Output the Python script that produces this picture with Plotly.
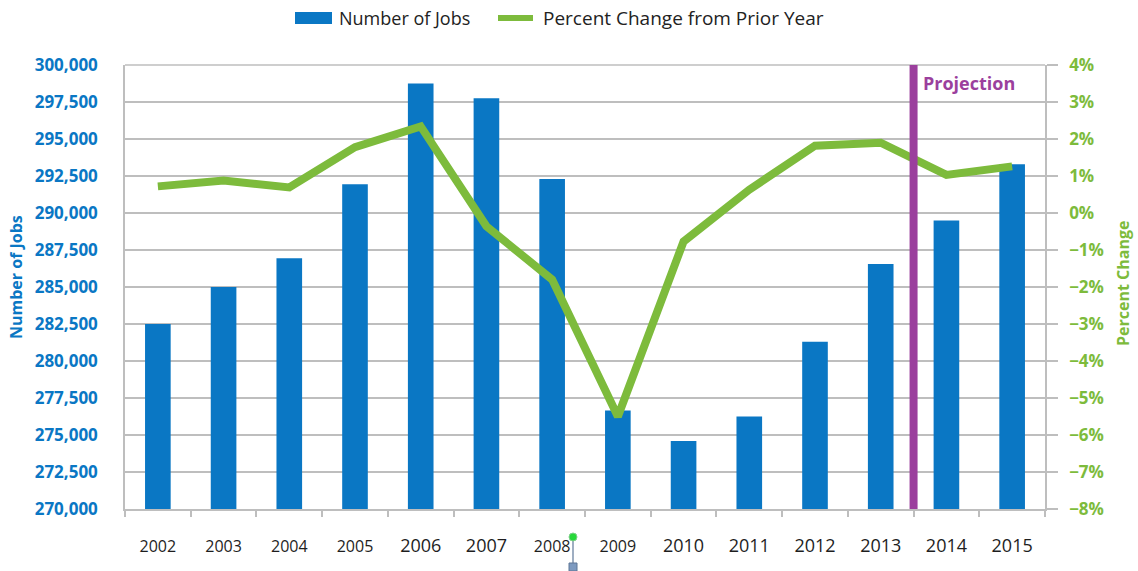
import plotly.graph_objects as go

# Annual employment and year-over-year change
years = [2002, 2003, 2004, 2005, 2006, 2007, 2008, 2009, 2010, 2011, 2012, 2013, 2014, 2015]
year_labels = ["2002", "2003", "2004", "2005", "2006", "2007", "2008",
               "2009", "2010", "2011", "2012", "2013", "2014", "2015"]
jobs = [282500, 285000, 286950, 291950, 298750, 297750, 292300,
        276650, 274600, 276250, 281300, 286550, 289500, 293300]
pct_change = [0.72, 0.88, 0.69, 1.78, 2.34, -0.36, -1.80,
              -5.50, -0.77, 0.63, 1.82, 1.90, 1.03, 1.26]

# Years from here on are projected values
projection_start = 2013.5

BLUE = "#0A77C4"
GREEN = "#7DBB3C"
PURPLE = "#9B3F9D"
GRID = "#BEBEBE"
FONT = "Open Sans"

# Plot-area geometry in pixels, used to place the hand-built legend
W, H = 1138, 571
L, R, T, B = 125, 93, 65, 62
PW, PH = W - L - R, H - T - B


def px(x):
    return (x - L) / PW


def py(y):
    return (H - B - y) / PH


# A few early labels are set slightly narrower
small_years = {"2002", "2003", "2004", "2005", "2008", "2009"}
tick_text = [f"<span style='font-size:16px'>{t}</span>" if t in small_years else t
             for t in year_labels]

fig = go.Figure()

fig.add_trace(go.Bar(
    x=years, y=jobs, name="Number of Jobs",
    marker=dict(color=BLUE, line=dict(width=0)),
    width=0.39, yaxis="y",
))

fig.add_trace(go.Scatter(
    x=years, y=pct_change, name="Percent Change from Prior Year",
    mode="lines", line=dict(color=GREEN, width=8),
    yaxis="y2",
))

# Divider between actual and projected years
fig.add_shape(
    type="line", xref="x", yref="paper",
    x0=projection_start, x1=projection_start, y0=0, y1=1,
    line=dict(color=PURPLE, width=8), layer="above",
)
fig.add_annotation(
    x=projection_start, y=1, xref="x", yref="paper",
    xanchor="left", yanchor="top", xshift=7, yshift=-4,
    text="<b>Projection</b>", showarrow=False,
    font=dict(family=FONT, size=18, color=PURPLE),
)

# Legend above the plot
LEG_FONT = dict(family=FONT, size=18, color="#222222")
fig.add_shape(type="rect", xref="paper", yref="paper",
              x0=px(295), x1=px(332), y0=py(24), y1=py(12),
              fillcolor=BLUE, line=dict(width=0))
fig.add_annotation(x=px(337), y=py(18), xref="paper", yref="paper",
                   xanchor="left", yanchor="middle", showarrow=False,
                   text="Number of Jobs", font=LEG_FONT)
fig.add_shape(type="line", xref="paper", yref="paper",
              x0=px(498), x1=px(533), y0=py(18), y1=py(18),
              line=dict(color=GREEN, width=6))
fig.add_annotation(x=px(541), y=py(18), xref="paper", yref="paper",
                   xanchor="left", yanchor="middle", showarrow=False,
                   text="Percent Change from Prior Year",
                   font=dict(family=FONT, size=19, color="#222222"))

# Axis titles
fig.add_annotation(x=px(16), y=py(277), xref="paper", yref="paper",
                   xanchor="center", yanchor="middle", showarrow=False,
                   textangle=-90, text="<b>Number of Jobs</b>",
                   font=dict(family=FONT, size=16, color=BLUE))
fig.add_annotation(x=px(1123), y=py(284), xref="paper", yref="paper",
                   xanchor="center", yanchor="middle", showarrow=False,
                   textangle=-90, text="<b>Percent Change</b>",
                   font=dict(family=FONT, size=16, color=GREEN))

# Small selection handle under the 2008 label
fig.add_shape(type="line", xref="paper", yref="paper",
              x0=px(573), x1=px(573), y0=py(538), y1=py(563),
              line=dict(color="#7F93AE", width=1.5))
fig.add_shape(type="circle", xref="paper", yref="paper",
              x0=px(569), x1=px(577), y0=py(533), y1=py(541),
              fillcolor="#27D83A", line=dict(color="#7FD08A", width=1))
fig.add_shape(type="rect", xref="paper", yref="paper",
              x0=px(569), x1=px(577), y0=py(571), y1=py(563),
              fillcolor="#7D9AC0", line=dict(color="#5E7796", width=1))

fig.update_layout(
    width=W, height=H,
    margin=dict(l=L, r=R, t=T, b=B, autoexpand=False),
    paper_bgcolor="white", plot_bgcolor="white",
    showlegend=False,
    xaxis=dict(
        range=[2001.5, 2015.5],
        tickmode="array", tickvals=years, ticktext=tick_text,
        ticks="", showgrid=False,
        tickfont=dict(family=FONT, size=18, color="#1E1E1E"),
        showline=True, linecolor=GRID, linewidth=1.5,
        minor=dict(tickvals=[y - 0.5 for y in years] + [2015.5],
                   ticks="outside", ticklen=6, tickcolor=GRID, tickwidth=1.5),
        ticklabelstandoff=20,
    ),
    yaxis=dict(
        range=[270000, 300000], dtick=2500, tick0=270000,
        tickformat=",d",
        showgrid=True, gridcolor=GRID, gridwidth=1.5,
        showline=True, linecolor=GRID, linewidth=1.5,
        zeroline=False,
        tickfont=dict(family=FONT, size=17, color=BLUE, weight="bold"),
        ticklabelstandoff=22,
    ),
    yaxis2=dict(
        range=[-8, 4], dtick=1, tick0=-8,
        overlaying="y", side="right",
        ticksuffix="%", showgrid=False, zeroline=False,
        showline=True, linecolor=GRID, linewidth=1.5,
        ticks="outside", ticklen=11, tickcolor=GRID, tickwidth=1.5,
        tickfont=dict(family=FONT, size=17, color=GREEN, weight="bold"),
        ticklabelstandoff=8,
    ),
)

# Top border of the plotting area
fig.add_shape(type="line", xref="paper", yref="paper", x0=0, x1=1, y0=1, y1=1,
              line=dict(color=GRID, width=1.5), layer="below")

fig.write_html("out.html")
